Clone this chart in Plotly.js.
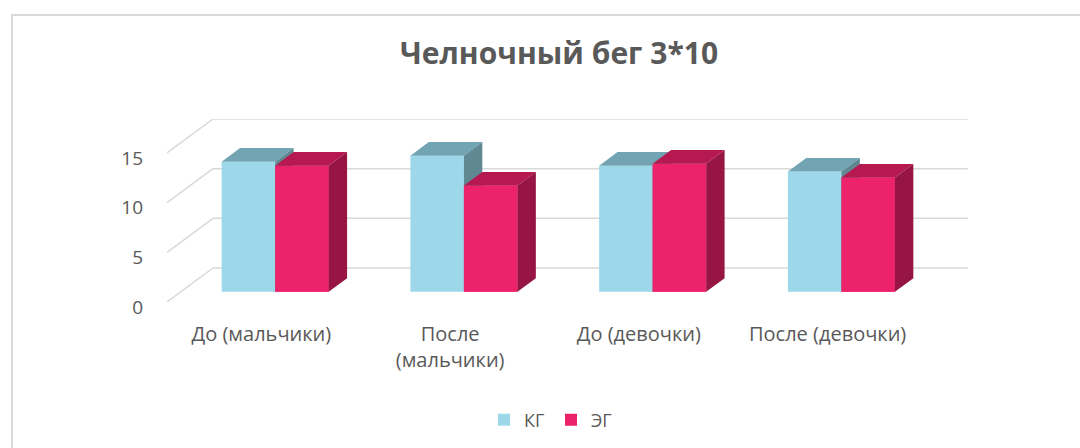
<!DOCTYPE html>
<html>
<head>
<meta charset="utf-8">
<script src="https://cdn.plot.ly/plotly-3.0.1.min.js"></script>
<style>html,body{margin:0;padding:0;background:#fff;}#chart{width:1080px;height:448px;}</style>
</head>
<body>
<div id="chart"></div>
<script>
// ---- data ----
const categories = ['До (мальчики)', 'После<br>(мальчики)', 'До (девочки)', 'После (девочки)'];
const seriesNames = ['КГ', 'ЭГ'];
const kgValues = [13.1, 13.7, 12.7, 12.1];
const egValues = [12.7, 10.7, 12.9, 11.5];
const yTicks = [0, 5, 10, 15];

// ---- 3D projection settings (axis units) ----
const DX = 0.2437, DY = 3.42;      // full depth vector of the floor/wall
const D0 = 0.3, DD = 0.4;          // bar front depth and bar depth (fraction)
const BW = 0.2835;                 // bar width (category units)
const sx = D0 * DX, base = D0 * DY, ddx = DD * DX, ddy = DD * DY;

const colors = {
  kg: {front: '#9dd7ea', top: '#72a4b3', side: '#5f8893'},
  eg: {front: '#ec236b', top: '#b5194f', side: '#961543'}
};

const xs = categories.map((c, i) => i);
const kgX0 = xs.map(i => i + sx - BW), egX0 = xs.map(i => i + sx);

function poly(pts) { return {x: pts.map(p => p[0]).concat([pts[0][0], null]), y: pts.map(p => p[1]).concat([pts[0][1], null])}; }
function faces(x0s, vals, kind) {
  let X = [], Y = [];
  vals.forEach((v, i) => {
    const x0 = x0s[i], x1 = x0 + BW, t = base + v;
    let p;
    if (kind === 'front') p = poly([[x0, base], [x1, base], [x1, t], [x0, t]]);
    if (kind === 'top') p = poly([[x0, t], [x1, t], [x1 + ddx, t + ddy], [x0 + ddx, t + ddy]]);
    if (kind === 'side') p = poly([[x1, base], [x1 + ddx, base + ddy], [x1 + ddx, t + ddy], [x1, t]]);
    X = X.concat(p.x); Y = Y.concat(p.y);
  });
  return {x: X, y: Y};
}
function fillTrace(x0s, vals, kind, col) {
  const f = faces(x0s, vals, kind);
  return {type: 'scatter', mode: 'none', x: f.x, y: f.y, fill: 'toself', fillcolor: col,
          showlegend: false, hoverinfo: 'skip'};
}

const traces = [
  {type: 'bar', name: seriesNames[0], x: kgX0.map(x => x + BW / 2), y: kgValues, base: base, width: BW,
   marker: {color: colors.kg.front, line: {width: 0}}},
  {type: 'bar', name: seriesNames[1], x: egX0.map(x => x + BW / 2), y: egValues, base: base, width: BW,
   marker: {color: colors.eg.front, line: {width: 0}}},
  fillTrace(kgX0, kgValues, 'top', colors.kg.top),
  fillTrace(kgX0, kgValues, 'side', colors.kg.side),
  fillTrace(egX0, egValues, 'front', colors.eg.front),
  fillTrace(egX0, egValues, 'top', colors.eg.top),
  fillTrace(egX0, egValues, 'side', colors.eg.side)
];

const grid = '#d9d9d9';
const shapes = [];
yTicks.forEach(v => {
  shapes.push({type: 'line', xref: 'x', yref: 'y', layer: 'below', x0: -0.5, y0: v, x1: -0.5 + DX, y1: v + DY, line: {color: grid, width: 1.5}});
  shapes.push({type: 'line', xref: 'x', yref: 'y', layer: 'below', x0: -0.5 + DX, y0: v + DY, x1: 3.5 + DX, y1: v + DY, line: {color: grid, width: 1.5}});
});
shapes.push({type: 'rect', xref: 'paper', yref: 'paper', x0: -0.1935, x1: 1.4, y0: -1.5, y1: 1.568, line: {color: grid, width: 2}, fillcolor: 'rgba(0,0,0,0)'});

const font = 'Open Sans, sans-serif';
const layout = {
  width: 1080, height: 448,
  margin: {l: 167, r: 112, t: 119, b: 146, pad: 0},
  paper_bgcolor: '#ffffff', plot_bgcolor: 'rgba(0,0,0,0)',
  showlegend: true,
  barmode: 'overlay',
  title: {text: '<b>Челночный бег 3*10</b>', x: 559 / 1080, xanchor: 'center', y: 1 - 53 / 448, yanchor: 'middle',
          font: {family: font, size: 30, color: '#595959'}},
  xaxis: {range: [-0.5, 3.5 + DX], tickvals: xs, ticktext: categories, showgrid: false, zeroline: false,
          showline: false, ticks: '', automargin: false, ticklabelstandoff: 18,
          tickfont: {family: font, size: 20, color: '#595959'}, fixedrange: true},
  yaxis: {range: [0, 15 + DY], tickvals: yTicks, showgrid: false, zeroline: false, showline: false,
          ticks: '', automargin: false, ticklabelstandoff: 23, ticklabelshift: 5,
          tickfont: {family: font, size: 19, color: '#595959'}, fixedrange: true},
  legend: {orientation: 'h', xref: 'container', yref: 'container', x: 551 / 1080, xanchor: 'center',
           y: 1 - 420 / 448, yanchor: 'middle', font: {family: font, size: 18, color: '#595959'},
           itemclick: false, itemdoubleclick: false, itemwidth: 30, entrywidth: 22},
  shapes: shapes
};

Plotly.newPlot('chart', traces, layout, {displayModeBar: false, staticPlot: true});
</script>
</body>
</html>
